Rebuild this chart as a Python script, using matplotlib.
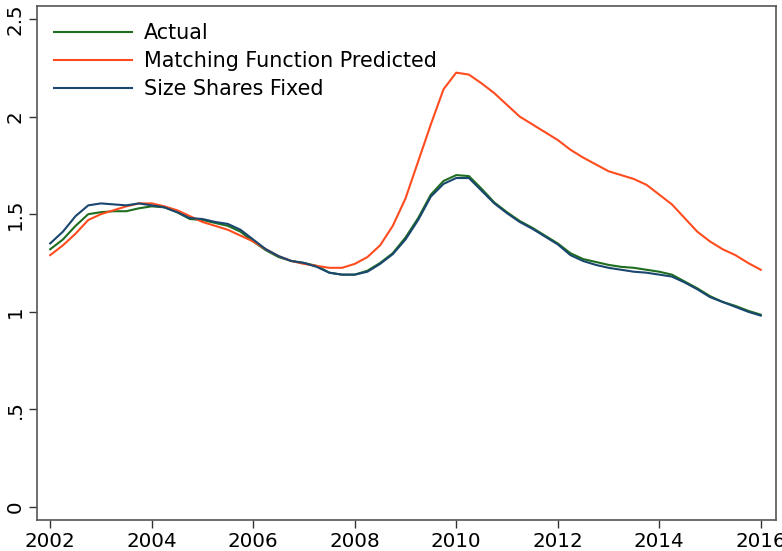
import numpy as np
import matplotlib
matplotlib.use('Agg')
import matplotlib.pyplot as plt

# quarterly readings, 2002q1 .. 2016q1
years = np.arange(2002.0, 2016.01, 0.25)

actual = [1.32, 1.37, 1.44, 1.50, 1.51, 1.515, 1.515, 1.53, 1.54, 1.535,
          1.51, 1.475, 1.47, 1.455, 1.44, 1.41, 1.36, 1.315, 1.28, 1.26,
          1.25, 1.235, 1.20, 1.19, 1.19, 1.21, 1.25, 1.30, 1.38, 1.48,
          1.60, 1.67, 1.70, 1.695, 1.63, 1.56, 1.51, 1.465, 1.43, 1.39,
          1.35, 1.30, 1.27, 1.255, 1.24, 1.23, 1.225, 1.215, 1.205, 1.19,
          1.155, 1.12, 1.08, 1.05, 1.03, 1.005, 0.985]

matching = [1.29, 1.34, 1.40, 1.47, 1.50, 1.52, 1.54, 1.555, 1.555, 1.54,
            1.52, 1.49, 1.46, 1.44, 1.42, 1.39, 1.36, 1.32, 1.285, 1.26,
            1.245, 1.235, 1.225, 1.225, 1.245, 1.28, 1.34, 1.44, 1.58, 1.77,
            1.96, 2.14, 2.225, 2.215, 2.17, 2.12, 2.06, 2.00, 1.96, 1.92,
            1.88, 1.83, 1.79, 1.755, 1.72, 1.70, 1.68, 1.65, 1.60, 1.55,
            1.48, 1.41, 1.36, 1.32, 1.29, 1.25, 1.215]

shares_fixed = [1.35, 1.41, 1.49, 1.545, 1.555, 1.55, 1.545, 1.555, 1.545, 1.535,
                1.51, 1.48, 1.475, 1.46, 1.45, 1.42, 1.37, 1.32, 1.285, 1.26,
                1.25, 1.23, 1.20, 1.19, 1.19, 1.205, 1.245, 1.295, 1.37, 1.47,
                1.59, 1.655, 1.685, 1.685, 1.62, 1.555, 1.505, 1.46, 1.425, 1.385,
                1.345, 1.29, 1.26, 1.24, 1.225, 1.215, 1.205, 1.20, 1.19, 1.18,
                1.15, 1.115, 1.075, 1.05, 1.025, 1.00, 0.98]

xticks = [2002, 2004, 2006, 2008, 2010, 2012, 2014, 2016]
yticks = [0, 0.5, 1, 1.5, 2, 2.5]
ylabels = ['0', '.5', '1', '1.5', '2', '2.5']

fig = plt.figure(figsize=(7.82, 5.51), dpi=100)
ax = fig.add_axes([0.0473, 0.0563, 0.945, 0.933])

ax.plot(years, actual, color='#1f6e1f', lw=1.5, label='Actual')
ax.plot(years, matching, color='#ff4c1f', lw=1.5, label='Matching Function Predicted')
ax.plot(years, shares_fixed, color='#1a476f', lw=1.5, label='Size Shares Fixed')

ax.set_xlim(2001.74, 2016.3)
ax.set_ylim(-0.067, 2.567)
ax.set_xticks(xticks)
ax.set_xticklabels([str(x) for x in xticks], fontsize=14.3)
ax.set_yticks(yticks)
ax.set_yticklabels(ylabels, fontsize=14.3, rotation=90, va='center')
ax.tick_params(direction='out', length=6, width=1, color='#333333', pad=3)

for s in ax.spines.values():
    s.set_color('#555555')
    s.set_linewidth(1.2)

ax.legend(loc='upper left', frameon=False, fontsize=14.9, handlelength=3.8,
          handletextpad=0.55, labelspacing=0.37, borderaxespad=0.3,
          bbox_to_anchor=(0.003, 0.994))

fig.savefig('out.png', dpi=100)
